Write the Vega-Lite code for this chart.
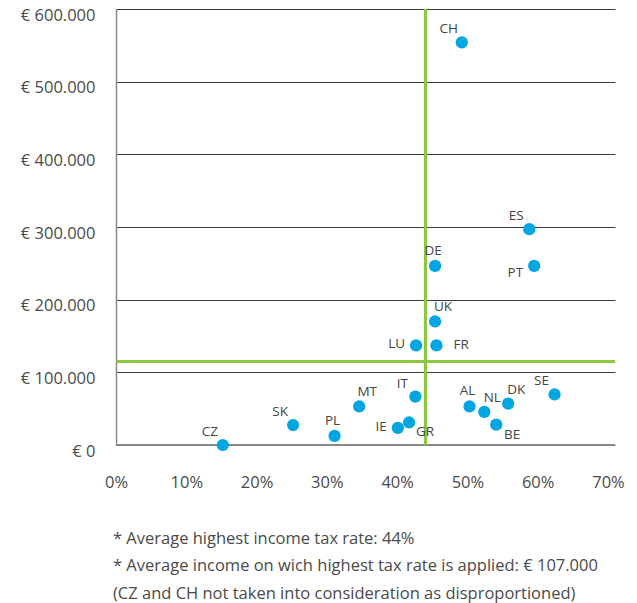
{
  "$schema": "https://vega.github.io/schema/vega-lite/v6.json",
  "autosize": {"type": "none"},
  "padding": {"left": 116, "top": 9, "right": 22, "bottom": 158},
  "width": 499,
  "height": 436,
  "background": "white",
  "config": {
    "font": "Open Sans",
    "view": {"stroke": null},
    "axis": {"labelFont": "Open Sans", "labelColor": "#4a4a4a", "labelFontSize": 16.5, "labelFontWeight": 400}
  },
  "title": {
    "text": ["* Average highest income tax rate: 44%", "* Average income on wich highest tax rate is applied: € 107.000", "(CZ and CH not taken into consideration as disproportioned)"],
    "orient": "bottom",
    "anchor": "start",
    "frame": "group",
    "align": "left",
    "dx": -3,
    "offset": 40,
    "font": "Open Sans",
    "fontSize": 16.5,
    "fontWeight": 400,
    "color": "#4a4a4a",
    "lineHeight": 27.5
  },
  "data": {
    "values": [
      {"country": "CH", "rate": 0.492, "income": 554000, "lp": "nw"},
      {"country": "ES", "rate": 0.588, "income": 297000, "lp": "nw"},
      {"country": "DE", "rate": 0.454, "income": 246500, "lp": "n"},
      {"country": "PT", "rate": 0.595, "income": 246500, "lp": "sw"},
      {"country": "UK", "rate": 0.454, "income": 170000, "lp": "ne"},
      {"country": "LU", "rate": 0.427, "income": 137000, "lp": "w"},
      {"country": "FR", "rate": 0.456, "income": 137000, "lp": "e"},
      {"country": "IT", "rate": 0.426, "income": 66500, "lp": "nw"},
      {"country": "MT", "rate": 0.346, "income": 53000, "lp": "ne"},
      {"country": "PL", "rate": 0.311, "income": 12500, "lp": "n"},
      {"country": "IE", "rate": 0.401, "income": 23500, "lp": "w"},
      {"country": "GR", "rate": 0.417, "income": 31000, "lp": "se"},
      {"country": "AL", "rate": 0.503, "income": 53000, "lp": "n"},
      {"country": "NL", "rate": 0.524, "income": 45500, "lp": "ne"},
      {"country": "DK", "rate": 0.558, "income": 57000, "lp": "ne"},
      {"country": "SE", "rate": 0.624, "income": 69500, "lp": "nw"},
      {"country": "BE", "rate": 0.541, "income": 28000, "lp": "se"},
      {"country": "SK", "rate": 0.252, "income": 27500, "lp": "nw"},
      {"country": "CZ", "rate": 0.152, "income": 0, "lp": "nw"}
    ]
  },
  "encoding": {
    "x": {
      "field": "rate", "type": "quantitative",
      "scale": {"domain": [0, 0.71], "nice": false, "zero": false},
      "axis": {
        "title": null, "format": ".0%", "values": [0, 0.1, 0.2, 0.3, 0.4, 0.5, 0.6, 0.7],
        "grid": false, "ticks": false, "domain": false, "labelPadding": 29, "labelFlush": false
      }
    },
    "y": {
      "field": "income", "type": "quantitative",
      "scale": {"domain": [0, 600000], "nice": false},
      "axis": {
        "title": null, "values": [0, 100000, 200000, 300000, 400000, 500000, 600000],
        "labelExpr": "'€ ' + replace(format(datum.value, ','), ',', '.')",
        "grid": true, "gridColor": "#3a3a3a", "gridWidth": 1, "ticks": false,
        "domain": true, "domainColor": "#888888", "domainWidth": 1.5,
        "labelPadding": 21, "labelOffset": 6, "labelFlush": false
      }
    }
  },
  "layer": [
    {
      "mark": {"type": "rule", "color": "#888888", "strokeWidth": 1.5},
      "encoding": {"y": {"datum": 0}, "x": null}
    },
    {
      "mark": {"type": "rule", "color": "#8dc63f", "strokeWidth": 2.5},
      "encoding": {"x": {"datum": 0.44}, "y": null}
    },
    {
      "mark": {"type": "rule", "color": "#8dc63f", "strokeWidth": 3},
      "encoding": {"y": {"datum": 115000}, "x": null}
    },
    {
      "mark": {"type": "circle", "size": 150, "color": "#00a6e2", "opacity": 1}
    },
    {
      "transform": [{"filter": "datum.lp == 'nw'"}],
      "mark": {"type": "text", "dx": -13, "dy": -13, "align": "center", "baseline": "middle", "fontSize": 13.5, "color": "#444444"},
      "encoding": {"text": {"field": "country"}}
    },
    {
      "transform": [{"filter": "datum.lp == 'n'"}],
      "mark": {"type": "text", "dx": -2, "dy": -15, "align": "center", "baseline": "middle", "fontSize": 13.5, "color": "#444444"},
      "encoding": {"text": {"field": "country"}}
    },
    {
      "transform": [{"filter": "datum.lp == 'ne'"}],
      "mark": {"type": "text", "dx": 8, "dy": -14, "align": "center", "baseline": "middle", "fontSize": 13.5, "color": "#444444"},
      "encoding": {"text": {"field": "country"}}
    },
    {
      "transform": [{"filter": "datum.lp == 'w'"}],
      "mark": {"type": "text", "dx": -11, "dy": -1, "align": "right", "baseline": "middle", "fontSize": 13.5, "color": "#444444"},
      "encoding": {"text": {"field": "country"}}
    },
    {
      "transform": [{"filter": "datum.lp == 'sw'"}],
      "mark": {"type": "text", "dx": -11, "dy": 7, "align": "right", "baseline": "middle", "fontSize": 13.5, "color": "#444444"},
      "encoding": {"text": {"field": "country"}}
    },
    {
      "transform": [{"filter": "datum.lp == 'e'"}],
      "mark": {"type": "text", "dx": 17, "dy": 0, "align": "left", "baseline": "middle", "fontSize": 13.5, "color": "#444444"},
      "encoding": {"text": {"field": "country"}}
    },
    {
      "transform": [{"filter": "datum.lp == 'se'"}],
      "mark": {"type": "text", "dx": 16, "dy": 10, "align": "center", "baseline": "middle", "fontSize": 13.5, "color": "#444444"},
      "encoding": {"text": {"field": "country"}}
    }
  ]
}
